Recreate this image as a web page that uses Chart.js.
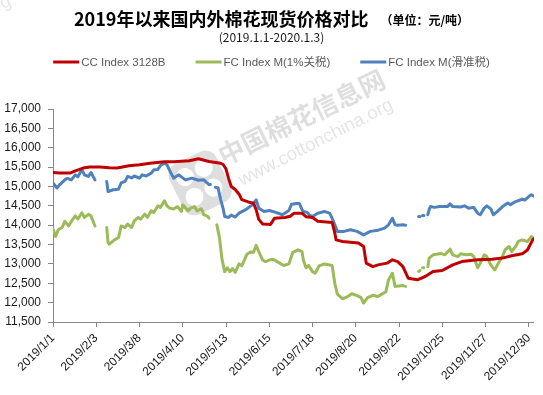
<!DOCTYPE html>
<html>
<head>
<meta charset="utf-8">
<script src="https://cdn.jsdelivr.net/npm/chart.js@4.4.1/dist/chart.umd.min.js"></script>
<style>
  html, body { margin: 0; padding: 0; background: #fff; }
</style>
</head>
<body>
<canvas id="c" width="543" height="395"></canvas>
<script>
// 横轴刻度（日期，每 33 天一个）
const xTickLabels = ['2019/1/1', '2019/2/3', '2019/3/8', '2019/4/10', '2019/5/13', '2019/6/15',
  '2019/7/18', '2019/8/20', '2019/9/22', '2019/10/25', '2019/11/27', '2019/12/30'];
const lastDate = '2020/1/3';

// [距 2019/1/1 的天数, 价格 元/吨]，null = 断档（春节、五一、国庆）
const ccIndex = [
  [0, 15360], [5, 15345], [13, 15345], [17, 15400], [23, 15475], [28, 15500], [36, 15500], [43, 15480],
  [49, 15475], [58, 15535], [66, 15560], [74, 15600], [85, 15640], [92, 15640], [104, 15665], [111, 15715],
  [119, 15645], [128, 15600], [130, 15560], [132, 15450], [134, 15200], [136, 15000], [139, 14920],
  [142, 14800], [144, 14660], [149, 14600], [153, 14570], [155, 14400], [157, 14150], [160, 14030],
  [166, 14020], [169, 14180], [177, 14200], [181, 14230], [184, 14310], [190, 14310], [193, 14220],
  [198, 14200], [202, 14100], [213, 14070], [215, 13800], [216, 13620], [221, 13580], [233, 13540],
  [237, 13450], [239, 13020], [244, 12930], [248, 12975], [255, 13020], [259, 13105], [263, 13060],
  [267, 12930], [271, 12630], [278, 12590], [284, 12675], [290, 12805], [297, 12830], [305, 12975],
  [312, 13060], [324, 13105], [335, 13120], [343, 13150], [350, 13210], [358, 13260], [362, 13360],
  [366, 13620], [367, 13650]
];

const fcTariff1 = [
  [0, 13900], [2, 13710], [4, 13880], [7, 13940], [9, 14100], [12, 13980], [14, 14100], [17, 14240],
  [19, 14160], [22, 14320], [24, 14200], [27, 14280], [29, 14240], [32, 13980], [33, null],
  [41, 13940], [42, 13550], [43, 13510], [46, 13595], [48, 13640], [50, 13680], [52, 13980], [55, 13940],
  [57, 14030], [60, 13940], [62, 14110], [65, 14200], [67, 14155], [70, 14285], [72, 14200], [75, 14370],
  [77, 14330], [80, 14500], [82, 14460], [85, 14630], [87, 14500], [89, 14440], [92, 14420], [95, 14480],
  [98, 14355], [99, 14525], [103, 14370], [105, 14440], [108, 14480], [110, 14370], [113, 14420],
  [114, 14370], [115, 14270], [118, 14225], [119, 14180], [121, null],
  [125, 14010], [127, 13680], [129, 13110], [131, 12800], [133, 12900], [135, 12800], [137, 12880],
  [139, 12780], [142, 13000], [144, 12950], [146, 13100], [148, 13250], [151, 13310], [153, 13300],
  [155, 13480], [157, 13320], [160, 13100], [162, 13060], [165, 13100], [168, 13120], [172, 13040],
  [176, 12960], [180, 13000], [183, 13300], [187, 13365], [190, 13320], [191, 13100], [193, 12900],
  [195, 12960], [198, 12800], [200, 12760], [203, 12950], [207, 13000], [210, 12980], [213, 12960],
  [215, 12500], [217, 12220], [221, 12100], [224, 12140], [228, 12230], [232, 12180], [235, 12130],
  [237, 11990], [240, 12130], [244, 12190], [248, 12160], [250, 12200], [254, 12280], [256, 12590],
  [259, 12760], [261, 12420], [264, 12430], [267, 12440], [269, 12420], [272, null],
  [279, 12805], [280, 12830], [281, null], [282, 12900], [283, 12900], [284, null],
  [286, 12930], [287, 13150], [290, 13235], [295, 13260], [297, 13260], [299, 13235], [303, 13380],
  [305, 13235], [309, 13190], [311, 13260], [315, 13235], [319, 13250], [321, 13190], [324, 12900],
  [326, 13020], [329, 13235], [331, 13190], [334, 12975], [337, 12845], [340, 13030], [343, 13200],
  [345, 13365], [348, 13450], [350, 13320], [353, 13450], [355, 13580], [358, 13620], [362, 13580],
  [365, 13705], [367, 13660]
];

const fcSliding = [
  [0, 15090], [3, 14960], [5, 15040], [9, 15170], [11, 15210], [14, 15170], [17, 15300], [19, 15250],
  [22, 15430], [24, 15300], [27, 15260], [29, 15360], [32, 15170], [33, null],
  [41, 15130], [42, 14870], [46, 14915], [50, 14930], [52, 15090], [55, 15130], [57, 15260], [60, 15220],
  [62, 15270], [66, 15215], [68, 15300], [71, 15270], [75, 15345], [77, 15430], [80, 15440], [82, 15540],
  [85, 15600], [87, 15560], [90, 15345], [92, 15215], [96, 15300], [101, 15170], [106, 15215],
  [111, 15160], [115, 15170], [119, 15045], [120, 15050], [122, null],
  [124, 14980], [126, 14960], [127, 14800], [128, 14655], [130, 14400], [131, 14225], [134, 14200],
  [136, 14260], [139, 14210], [142, 14310], [147, 14400], [152, 14525], [155, 14655], [157, 14440],
  [161, 14355], [165, 14380], [170, 14330], [175, 14270], [180, 14380], [182, 14540], [186, 14560],
  [188, 14560], [190, 14400], [191, 14355], [194, 14330], [196, 14250], [198, 14225], [202, 14310],
  [207, 14355], [211, 14310], [213, 14180], [216, 13925], [217, 13840], [222, 13840], [227, 13880],
  [232, 13840], [237, 13750], [242, 13840], [247, 13860], [253, 13925], [256, 14010], [259, 14180],
  [261, 14010], [263, 14000], [267, 14010], [269, 14000], [272, null],
  [279, 14225], [280, 14225], [281, null], [282, 14250], [283, 14250], [284, null],
  [286, 14270], [287, 14400], [288, 14480], [291, 14460], [295, 14480], [301, 14480], [303, 14550],
  [305, 14480], [311, 14470], [314, 14500], [317, 14440], [321, 14460], [324, 14310], [326, 14270],
  [329, 14440], [331, 14500], [334, 14420], [336, 14270], [339, 14350], [343, 14480], [347, 14570],
  [349, 14530], [353, 14610], [358, 14670], [360, 14650], [363, 14740], [365, 14785], [367, 14750]
];

const titleText = '2019年以来国内外棉花现货价格对比';
const unitText = '（单位：元/吨）';
const rangeText = '(2019.1.1-2020.1.3)';

function dayOf(label) {
  const [y, m, d] = label.split('/').map(Number);
  return Math.round((Date.UTC(y, m - 1, d) - Date.UTC(2019, 0, 1)) / 86400000);
}
const toPoints = arr => arr.map(([x, y]) => ({ x, y }));
const tickDays = xTickLabels.map(dayOf);

const latin = '"Liberation Sans", "Noto Sans CJK SC", sans-serif';
const cjk = '"Noto Sans CJK SC", sans-serif';

// 水印
const watermark = {
  id: 'watermark',
  beforeDatasetsDraw(chart) {
    const ctx = chart.ctx;
    const ang = -26 * Math.PI / 180;
    ctx.save();
    ctx.translate(200, 183);
    ctx.rotate(ang);
    ctx.fillStyle = 'rgba(0,0,0,0.13)';
    ctx.beginPath();
    ctx.roundRect(-26, -28, 52, 56, 12);
    ctx.fill();
    ctx.fillStyle = '#fff';
    [[-11, -12, 9], [10, -12, 9], [-11, 10, 9], [10, 10, 9]].forEach(([cx, cy, r]) => {
      ctx.beginPath();
      ctx.arc(cx, cy, r, 0, Math.PI * 2);
      ctx.fill();
    });
    ctx.restore();

    ctx.save();
    ctx.translate(224, 166);
    ctx.rotate(ang);
    ctx.font = 'bold 26px ' + cjk;
    ctx.fillStyle = 'rgba(0,0,0,0.13)';
    ctx.fillText('中国棉花信息网', 0, 0);
    ctx.restore();

    ctx.save();
    ctx.translate(242, 186);
    ctx.rotate(-27 * Math.PI / 180);
    ctx.font = '18.5px ' + latin;
    ctx.fillStyle = 'rgba(0,0,0,0.11)';
    ctx.fillText('www.cottonchina.org', 0, 0);
    ctx.restore();

    // 左上角残留水印
    ctx.save();
    ctx.translate(-2, 12);
    ctx.rotate(-27 * Math.PI / 180);
    ctx.font = '18px ' + latin;
    ctx.fillStyle = 'rgba(0,0,0,0.10)';
    ctx.fillText('rg', 0, 0);
    ctx.restore();
  }
};

// 标题、副标题、图例
const header = {
  id: 'header',
  afterDraw(chart) {
    const ctx = chart.ctx;
    const cx = chart.width / 2;
    ctx.save();
    ctx.textBaseline = 'middle';
    ctx.textAlign = 'left';
    ctx.fillStyle = '#000';
    ctx.font = 'bold 18px ' + cjk;
    const tw = ctx.measureText(titleText).width;
    ctx.font = 'bold 12px ' + cjk;
    const uw = ctx.measureText(unitText).width;
    const gap = 12;
    let x = cx - (tw + gap + uw) / 2;
    ctx.font = 'bold 18px ' + cjk;
    ctx.fillText(titleText, x, 19);
    ctx.font = 'bold 12px ' + cjk;
    ctx.fillText(unitText, x + tw + gap, 20);

    ctx.textAlign = 'center';
    ctx.fillStyle = '#1a1a1a';
    ctx.font = '12px ' + cjk;
    ctx.fillText(rangeText, cx, 37);

    // 图例
    const sets = chart.data.datasets;
    const lineW = 26, textGap = 2, itemGap = 30, ly = 62;
    ctx.font = '11.5px ' + latin;
    const widths = sets.map(d => lineW + textGap + ctx.measureText(d.label).width);
    const total = widths.reduce((a, b) => a + b, 0) + itemGap * (sets.length - 1);
    x = cx - total / 2;
    ctx.textAlign = 'left';
    sets.forEach((d, i) => {
      ctx.strokeStyle = d.borderColor;
      ctx.lineWidth = 3;
      ctx.beginPath();
      ctx.moveTo(x, ly);
      ctx.lineTo(x + lineW, ly);
      ctx.stroke();
      ctx.fillStyle = '#595959';
      ctx.fillText(d.label, x + lineW + textGap, ly + 0.5);
      x += widths[i] + itemGap;
    });
    ctx.restore();
  }
};

new Chart(document.getElementById('c'), {
  type: 'line',
  data: {
    datasets: [
      { label: 'CC Index 3128B', data: toPoints(ccIndex), borderColor: '#C00000' },
      { label: 'FC Index M(1%关税)', data: toPoints(fcTariff1), borderColor: '#9BBB59' },
      { label: 'FC Index M(滑准税)', data: toPoints(fcSliding), borderColor: '#4F81BD' }
    ]
  },
  options: {
    responsive: false,
    animation: false,
    spanGaps: false,
    layout: { padding: { top: 109, right: 6, bottom: 0, left: 0 } },
    elements: {
      point: { radius: 0 },
      line: { borderWidth: 3, tension: 0, borderCapStyle: 'round', borderJoinStyle: 'round', fill: false }
    },
    plugins: {
      legend: { display: false },
      title: { display: false },
      tooltip: { enabled: false }
    },
    scales: {
      x: {
        type: 'linear',
        min: 0,
        max: dayOf(lastDate),
        afterBuildTicks: s => { s.ticks = tickDays.map(v => ({ value: v })); },
        afterFit: s => { s.height = 73; },
        ticks: {
          autoSkip: false,
          minRotation: 45,
          maxRotation: 45,
          padding: 4,
          color: '#1a1a1a',
          font: { family: latin, size: 12 },
          callback: (v, i) => xTickLabels[i]
        },
        grid: { drawOnChartArea: false, tickLength: 5, color: '#868686' },
        border: { color: '#868686' }
      },
      y: {
        min: 11500,
        max: 17000,
        afterFit: s => { s.width = 53; },
        ticks: {
          stepSize: 500,
          padding: 7,
          color: '#1a1a1a',
          font: { family: latin, size: 12 }
        },
        grid: { drawOnChartArea: false, tickLength: 5, color: '#868686' },
        border: { color: '#868686' }
      }
    }
  },
  plugins: [watermark, header]
});
</script>
</body>
</html>
